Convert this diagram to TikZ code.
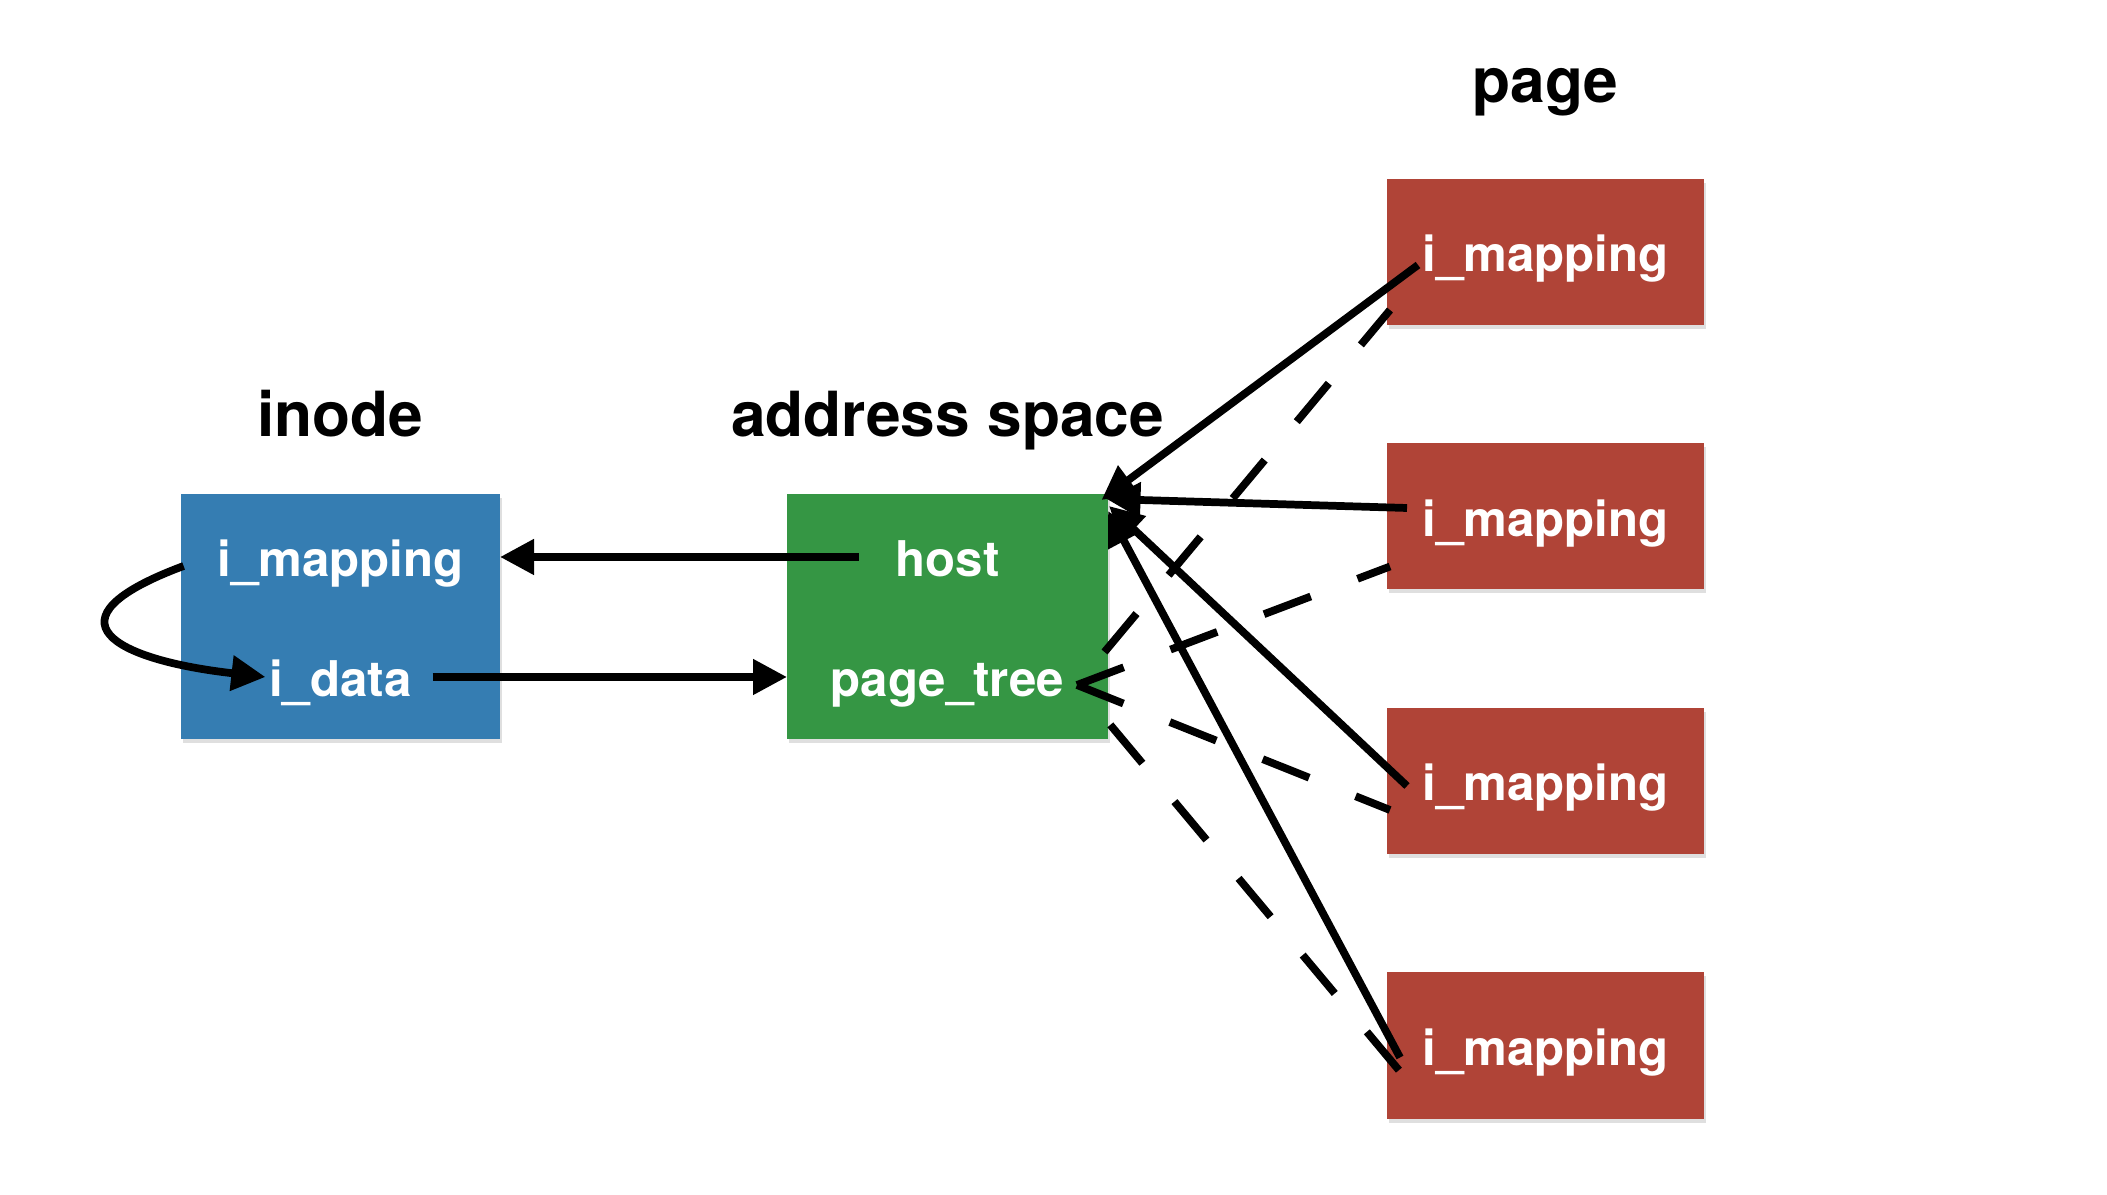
\documentclass[tikz,border=0pt]{standalone}
\usepackage{fontspec}
\setmainfont{TeX Gyre Heros}
\usetikzlibrary{arrows.meta, positioning, shadows}
\definecolor{cblue}{HTML}{357DB2}
\definecolor{cgreen}{HTML}{359644}
\definecolor{cred}{HTML}{B04437}
\tikzset{
  every picture/.style={line width=2.2pt},
  box/.style={fill=#1, draw=none, text=white, font=\fontsize{14}{16}\selectfont\bfseries,
              text height=0.4cm, text depth=0pt, inner sep=0pt, outer sep=0pt,
              drop shadow={shadow xshift=0.02cm, shadow yshift=-0.04cm, opacity=0.25}},
  box/.default=cred,
  lbl/.style={text=white, font=\fontsize{14}{16}\selectfont\bfseries, text height=0.4cm, text depth=0pt, inner sep=0pt},
  title/.style={font=\fontsize{17.7}{20}\selectfont\bfseries, anchor=base, inner sep=0pt},
  arrow/.style={-{Triangle[length=0.34cm, width=0.34cm]}},
  dashline/.style={dash pattern=on 0.5cm off 0.5cm},
}

\begin{document}
\begin{tikzpicture}
  \useasboundingbox (0,0) rectangle (21.07,11.95);
  % structures
  \node[box=cblue, minimum width=3.19cm, minimum height=2.45cm] (ino) at (3.405,5.785) {};
  \node[box=cgreen, minimum width=3.21cm, minimum height=2.45cm] (as) at (9.475,5.785) {};
  \node[lbl] (imap) at ([yshift=0.595cm]ino.center) {i\_mapping};
  \node[lbl] (idata) at ([yshift=-0.605cm]ino.center) {i\_data};
  \node[lbl] (host) at ([yshift=0.595cm]as.center) {host};
  \node[lbl] (ptree) at ([yshift=-0.605cm]as.center) {page\_tree};
  \node[title] (tino) at ([yshift=0.57cm]ino.north) {inode};
  \node[title] (tas) at ([yshift=0.57cm]as.north) {address space};
  % pages
  \node[box, minimum width=3.17cm, minimum height=1.46cm] (p1) at (15.455,9.43) {i\_mapping};
  \node[box, minimum width=3.17cm, minimum height=1.46cm, below=1.185cm of p1] (p2) {i\_mapping};
  \node[box, minimum width=3.17cm, minimum height=1.46cm, below=1.185cm of p2] (p3) {i\_mapping};
  \node[box, minimum width=3.17cm, minimum height=1.46cm, below=1.185cm of p3] (p4) {i\_mapping};
  \node[title] (tpage) at ([yshift=0.76cm]p1.north) {page};
  % links
  \draw[arrow] ([xshift=-0.33cm]host.west) -- (host.west -| ino.east);
  \draw[arrow] ([xshift=0.17cm]idata.east) -- (idata.east -| as.west);
  \draw[arrow] ([shift={(-0.3,-0.09)}]imap.west) .. controls +(-1.45,-0.54) and +(-1.5,0.17) .. (idata.west);
  \coordinate (pt) at ([shift={(0.09,-0.08)}]ptree.east);
  \draw[dashline, shorten <=0.43cm] (pt) -- ([shift={(0.03,-0.58)}]p1.west);
  \draw[dashline] (pt) -- ([shift={(0.03,-0.50)}]p2.west);
  \draw[dashline] (pt) -- ([shift={(0.03,-0.29)}]p3.west);
  \draw[dashline, shorten <=0.52cm] (pt) -- ([shift={(0.13,-0.26)}]p4.west);
  \draw[arrow] ([shift={(0.31,-0.13)}]p1.west) -- ([shift={(-0.065,-0.06)}]as.north east);
  \draw[arrow] ([shift={(0.20,0.085)}]p2.west) -- ([shift={(-0.015,-0.05)}]as.north east);
  \draw[arrow] ([shift={(0.20,-0.05)}]p3.west) -- ([shift={(0.01,-0.12)}]as.north east);
  \draw[arrow] ([shift={(0.13,-0.12)}]p4.west) -- ([shift={(0.0,-0.17)}]as.north east);
\end{tikzpicture}
\end{document}
